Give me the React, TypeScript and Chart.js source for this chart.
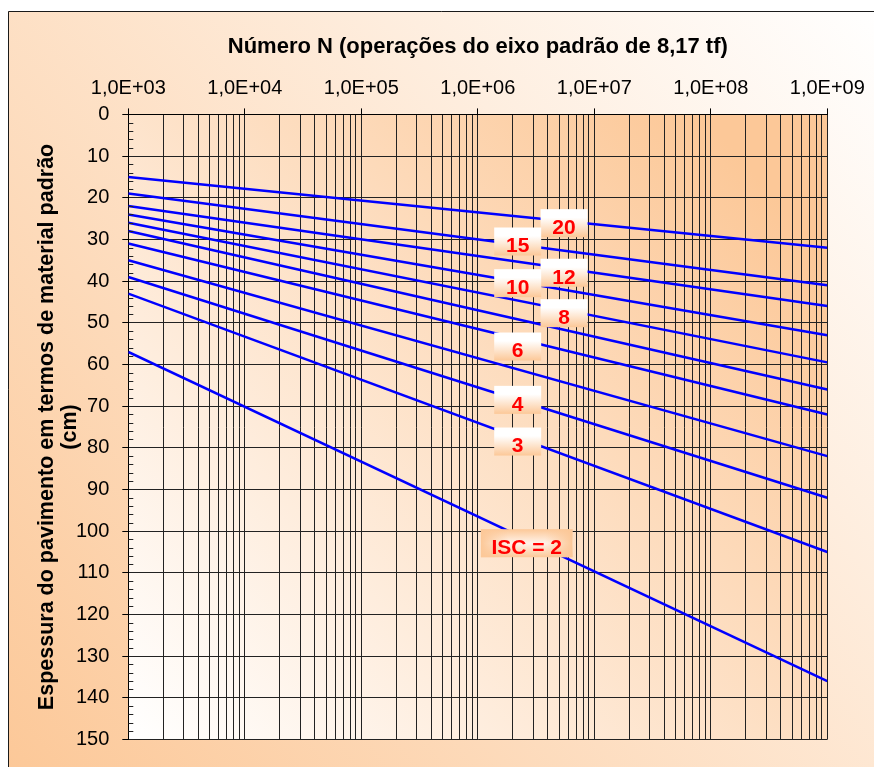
import React, { useEffect, useRef } from 'react';
import { Chart, registerables } from 'chart.js';

Chart.register(...registerables);
Chart.defaults.font.family = '"Liberation Sans", Arial, sans-serif';

// ---- Data ----
const iscValues = [20, 15, 12, 10, 8, 7, 6, 5, 4, 3, 2];
const nStart = 1e3;
const nEnd = 1e9;
const thicknessAtStart = [15, 19, 22, 24, 26, 28, 31, 35, 39, 43, 57];
const thicknessAtEnd = [32, 41, 46, 53, 59.5, 66, 72, 82, 92, 105, 136];

const labelTexts = ['20', '15', '12', '10', '8', '6', '4', '3', 'ISC = 2'];
const labelN = [5.5e6, 2.2e6, 5.5e6, 2.2e6, 5.5e6, 2.2e6, 2.2e6, 2.2e6, 2.63e6];
const labelThickness = [27.3, 31.7, 39.2, 41.7, 48.9, 56.9, 69.7, 79.7, 104.1];

const decadeExponents = [3, 4, 5, 6, 7, 8, 9];
const minorMultipliers = [2, 3, 4, 5, 6, 7, 8, 9];
const yMin = 0;
const yMax = 150;
const yMajorStep = 10;
const yMinorStep = 2;

const xTitle = 'Número N (operações do eixo padrão de 8,17 tf)';
const yTitle = ['Espessura do pavimento em termos de material padrão', '(cm)'];

const xTickValues: number[] = [];
decadeExponents.forEach((e, i) => {
  xTickValues.push(Math.pow(10, e));
  if (i < decadeExponents.length - 1) {
    minorMultipliers.forEach((m) => xTickValues.push(m * Math.pow(10, e)));
  }
});

const isDecade = (v: any) => {
  if (typeof v !== 'number' || v <= 0) return false;
  const l = Math.log10(v);
  return Math.abs(l - Math.round(l)) < 1e-9;
};
const fmtDecade = (v: number) => {
  const e = Math.round(Math.log10(v));
  return '1,0E+' + String(e).padStart(2, '0');
};

const PEACH = '#FCC898';

const bgPlugin = {
  id: 'bgPlugin',
  beforeDraw(chart: any) {
    const { ctx, width, height, chartArea: ca } = chart;
    ctx.save();
    ctx.fillStyle = '#FFFFFF';
    ctx.fillRect(0, 0, width, height);
    const g = ctx.createLinearGradient(0, height, width, 0);
    g.addColorStop(0, PEACH);
    g.addColorStop(1, '#FFFFFF');
    ctx.fillStyle = g;
    ctx.fillRect(8, 11, width - 8, height - 11);
    ctx.strokeStyle = '#1a1a1a';
    ctx.lineWidth = 1;
    ctx.beginPath();
    ctx.moveTo(8.5, height);
    ctx.lineTo(8.5, 11.5);
    ctx.lineTo(width, 11.5);
    ctx.stroke();
    const g2 = ctx.createLinearGradient(ca.left, ca.bottom, ca.right, ca.top);
    g2.addColorStop(0, '#FFFFFF');
    g2.addColorStop(0.9, PEACH);
    g2.addColorStop(1, PEACH);
    ctx.fillStyle = g2;
    ctx.fillRect(ca.left, ca.top, ca.right - ca.left, ca.bottom - ca.top);
    ctx.restore();
  },
};

const minorTickPlugin = {
  id: 'minorTickPlugin',
  afterDraw(chart: any) {
    const y = chart.scales.y;
    const ctx = chart.ctx;
    const left = chart.chartArea.left;
    ctx.save();
    ctx.strokeStyle = '#222';
    ctx.lineWidth = 1;
    ctx.beginPath();
    for (let v = yMin; v <= yMax; v += yMinorStep) {
      if (v % yMajorStep === 0) continue;
      const py = Math.round(y.getPixelForValue(v)) + 0.5;
      ctx.moveTo(left, py);
      ctx.lineTo(left + 5, py);
    }
    ctx.stroke();
    ctx.restore();
  },
};

const labelPlugin = {
  id: 'labelPlugin',
  afterDatasetsDraw(chart: any) {
    const { ctx } = chart;
    const xs = chart.scales.x;
    const ys = chart.scales.y;
    ctx.save();
    ctx.font = 'bold 21px "Liberation Sans", Arial, sans-serif';
    ctx.textAlign = 'center';
    ctx.textBaseline = 'middle';
    labelTexts.forEach((t, i) => {
      const px = xs.getPixelForValue(labelN[i]);
      const py = ys.getPixelForValue(labelThickness[i]);
      const tw = ctx.measureText(t).width;
      const w = Math.max(47, tw + 21);
      const h = 28;
      const left = px - w / 2;
      const top = py - 19;
      if (t.startsWith('ISC')) {
        const gv = ctx.createLinearGradient(0, top, 0, top + h);
        gv.addColorStop(0, PEACH);
        gv.addColorStop(0.5, '#FFF3EA');
        gv.addColorStop(1, PEACH);
        ctx.fillStyle = gv;
        ctx.fillRect(left, top, w, h);
        const gh = ctx.createLinearGradient(left, 0, left + w, 0);
        gh.addColorStop(0, 'rgba(252,200,152,1)');
        gh.addColorStop(0.3, 'rgba(252,200,152,0)');
        gh.addColorStop(0.7, 'rgba(252,200,152,0)');
        gh.addColorStop(1, 'rgba(252,200,152,1)');
        ctx.fillStyle = gh;
        ctx.fillRect(left, top, w, h);
      } else {
        const gv = ctx.createLinearGradient(0, top, 0, top + h);
        gv.addColorStop(0, '#FFFFFF');
        gv.addColorStop(0.3, '#FFFFFF');
        gv.addColorStop(1, PEACH);
        ctx.fillStyle = gv;
        ctx.fillRect(left, top, w, h);
      }
      ctx.fillStyle = '#FF0000';
      ctx.fillText(t, px, py);
    });
    ctx.restore();
  },
};

export default function App() {
  const ref = useRef<HTMLCanvasElement | null>(null);
  useEffect(() => {
    document.body.style.margin = '0';
    const canvas = ref.current;
    if (!canvas) return;
    const chart = new Chart(canvas, {
      type: 'scatter',
      data: {
        datasets: iscValues.map((isc, i) => ({
          label: 'ISC ' + isc,
          data: [
            { x: nStart, y: thicknessAtStart[i] },
            { x: nEnd, y: thicknessAtEnd[i] },
          ],
          showLine: true,
          borderColor: '#0000FF',
          backgroundColor: '#0000FF',
          borderWidth: 2.5,
          pointRadius: 0,
          fill: false,
        })),
      },
      options: {
        responsive: false,
        animation: false,
        layout: { padding: { left: 0, top: 0, right: 46.7, bottom: 27.5 } },
        plugins: {
          legend: { display: false },
          tooltip: { enabled: false },
          title: { display: false },
        },
        scales: {
          x: {
            type: 'logarithmic',
            position: 'top',
            min: nStart,
            max: nEnd,
            afterBuildTicks: (s: any) => {
              s.ticks = xTickValues.map((v) => ({ value: v }));
            },
            afterFit: (s: any) => {
              s.height = 114.4;
            },
            ticks: {
              autoSkip: false,
              maxRotation: 0,
              minRotation: 0,
              padding: 7.6,
              color: '#000',
              font: { size: 20 },
              callback: (v: any) => (isDecade(Number(v)) ? fmtDecade(Number(v)) : ''),
            },
            grid: {
              color: '#222',
              lineWidth: 1,
              tickLength: 6,
              tickColor: (c: any) => (c.tick && isDecade(c.tick.value) ? '#000' : 'rgba(0,0,0,0)'),
            },
            border: { display: true, color: '#000', width: 1 },
            title: {
              display: true,
              text: xTitle,
              color: '#000',
              font: { size: 22, weight: 'bold', lineHeight: 1.2 },
              padding: { top: 34, bottom: 0 },
            },
          },
          y: {
            type: 'linear',
            position: 'left',
            reverse: true,
            min: yMin,
            max: yMax,
            afterFit: (s: any) => {
              s.width = 128.3;
            },
            ticks: {
              stepSize: yMajorStep,
              color: '#000',
              font: { size: 20 },
              padding: 13,
            },
            grid: { color: '#222', lineWidth: 1, tickLength: 6, tickColor: '#000' },
            border: { display: true, color: '#000', width: 1 },
            title: {
              display: true,
              text: yTitle,
              color: '#000',
              font: { size: 21.5, weight: 'bold', lineHeight: 1.08 },
              padding: { top: 35.5, bottom: 0 },
            },
          },
        },
      } as any,
      plugins: [bgPlugin, minorTickPlugin, labelPlugin],
    });
    return () => chart.destroy();
  }, []);
  return <canvas ref={ref} width={874} height={767} style={{ display: 'block' }} />;
}
